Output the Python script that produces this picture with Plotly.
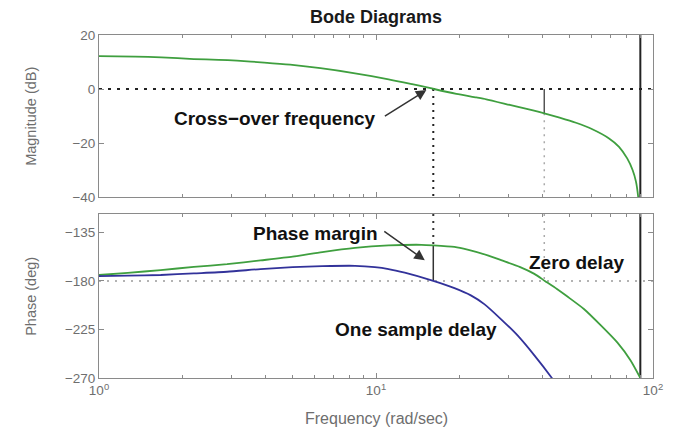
import numpy as np
import plotly.graph_objects as go
from plotly.subplots import make_subplots

# Open-loop magnitude (same for both loops)
freq_mag = [1.0, 1.35, 1.68, 2.2, 2.7, 3.15, 3.95, 4.9, 6.3, 8.4, 11.1, 13.5, 15.3,
            16.2, 19.5, 23.0, 25.0, 30.4, 35.0, 40.5, 46.0, 52.7, 60.4, 69.4, 75.4,
            80.7, 84.4, 86.8, 88.4, 89.3]
mag_db = [12.2, 12.0, 11.7, 11.1, 10.8, 10.5, 9.8, 9.0, 7.7, 5.8, 3.6, 1.8, 0.6,
          0.0, -1.8, -3.1, -3.8, -5.9, -7.4, -9.0, -10.6, -12.5, -14.9, -18.3, -21.4,
          -25.7, -30.0, -34.3, -39.9, -46.0]

# Phase, zero delay
freq_ph_zero = [1.0, 1.27, 1.67, 2.2, 2.9, 3.83, 5.0, 6.4, 8.4, 11.1, 14.6, 16.1,
                19.2, 21.4, 25.3, 28.3, 33.0, 37.3, 40.7, 45.0, 49.1, 56.3, 64.7, 74.3,
                82.9, 90.0]
phase_zero = [-174.5, -172.5, -170.0, -167.0, -164.5, -161.0, -157.5, -153.2, -149.3,
              -147.1, -146.5, -147.0, -148.5, -151.0, -156.3, -160.8, -167.0, -173.5,
              -180.0, -187.5, -194.5, -206.0, -221.0, -237.0, -253.5, -270.0]

# Phase, one sample delay
freq_ph_delay = [1.0, 1.27, 1.67, 2.2, 2.9, 3.83, 5.0, 6.4, 8.4, 9.9, 11.1, 12.7,
                 16.1, 19.2, 22.0, 24.6, 28.3, 32.5, 37.3, 42.8, 44.5]
phase_delay = [-175.5, -175.1, -174.5, -173.0, -171.5, -169.0, -167.2, -166.3, -166.0,
               -167.2, -169.0, -172.4, -180.0, -186.7, -193.4, -201.5, -215.6, -230.8,
               -249.0, -268.8, -275.0]

# Margin markers
crossover_freq = 16.1
phase_crossover_freq = 40.5
nyquist_freq = 90.0
mag_at_phase_crossover = -9.0
phase_at_crossover = -147.3

freq_range = [1, 100]
mag_range = [-40, 20]
phase_range = [-270, -118]
mag_ticks = [20, 0, -20, -40]
phase_ticks = [-135, -180, -225, -270]
decade_ticks = [1, 10, 100]
decade_labels = ["10<sup>0</sup>", "10<sup>1</sup>", "10<sup>2</sup>"]
minor_ticks = [m * d for d in (1, 10) for m in range(2, 10)]

GREEN = "#3f9f3f"
BLUE = "#32329a"
AXIS = "#8a8a8a"
TICKTXT = "#6e6e6e"
FONT = "Liberation Sans, Arial, Helvetica, sans-serif"

fig = make_subplots(rows=2, cols=1, shared_xaxes=False, vertical_spacing=0.0)


def ref_line(x, y, row, color, width, dash):
    fig.add_trace(go.Scatter(x=x, y=y, mode="lines", hoverinfo="skip", showlegend=False,
                             line=dict(color=color, width=width, dash=dash)),
                  row=row, col=1)


# Magnitude panel reference lines
ref_line(freq_range, [0, 0], 1, "#222222", 2, "3px,6px")
ref_line([crossover_freq] * 2, [0, mag_range[0]], 1, "#222222", 2, "2px,5px")
ref_line([phase_crossover_freq] * 2, [0, mag_at_phase_crossover], 1, "#555555", 1.5, "solid")
ref_line([phase_crossover_freq] * 2, [mag_at_phase_crossover, mag_range[0]], 1, "#aaaaaa", 1.5, "2px,5px")
ref_line([nyquist_freq] * 2, mag_range, 1, "#222222", 2, "solid")

# Phase panel reference lines
ref_line(freq_range, [-180, -180], 2, "#9a9a9a", 1.5, "2px,6px")
ref_line([crossover_freq] * 2, [phase_range[1], phase_at_crossover], 2, "#333333", 2, "2px,5px")
ref_line([crossover_freq] * 2, [phase_at_crossover, -180], 2, "#333333", 1.5, "solid")
ref_line([phase_crossover_freq] * 2, [phase_range[1], -180], 2, "#aaaaaa", 1.5, "2px,5px")
ref_line([nyquist_freq] * 2, phase_range, 2, "#222222", 2, "solid")

# Curves
fig.add_trace(go.Scatter(x=freq_mag, y=mag_db, mode="lines", showlegend=False,
                         line=dict(color=GREEN, width=1.8, shape="spline", smoothing=0.6)),
              row=1, col=1)
fig.add_trace(go.Scatter(x=freq_ph_zero, y=phase_zero, mode="lines", showlegend=False,
                         line=dict(color=GREEN, width=1.8, shape="spline", smoothing=0.6)),
              row=2, col=1)
fig.add_trace(go.Scatter(x=freq_ph_delay, y=phase_delay, mode="lines", showlegend=False,
                         line=dict(color=BLUE, width=1.8, shape="spline", smoothing=0.6)),
              row=2, col=1)

xcommon = dict(type="log", range=[np.log10(freq_range[0]), np.log10(freq_range[1])],
               tickmode="array", tickvals=decade_ticks, ticktext=decade_labels,
               ticks="inside", ticklen=5, tickwidth=1, tickcolor=AXIS,
               showline=True, linecolor=AXIS, linewidth=1, mirror="ticks",
               showgrid=False, zeroline=False,
               minor=dict(tickmode="array", tickvals=minor_ticks, ticks="inside",
                          ticklen=3, tickcolor=AXIS, showgrid=False),
               tickfont=dict(family=FONT, size=13.5, color=TICKTXT))
ycommon = dict(tickmode="array", ticks="inside", ticklen=5, tickwidth=1, tickcolor=AXIS,
               showline=True, linecolor=AXIS, linewidth=1, mirror="ticks",
               showgrid=False, zeroline=False,
               tickfont=dict(family=FONT, size=13.5, color=TICKTXT))

fig.update_xaxes(**xcommon, showticklabels=False, row=1, col=1)
fig.update_xaxes(**xcommon, showticklabels=True, row=2, col=1)
fig.update_yaxes(**ycommon, range=mag_range, tickvals=mag_ticks, row=1, col=1)
fig.update_yaxes(**ycommon, range=phase_range, tickvals=phase_ticks, row=2, col=1)

fig.update_layout(
    width=675, height=435,
    margin=dict(l=99, r=19, t=35, b=57),
    paper_bgcolor="white", plot_bgcolor="white",
    xaxis=dict(domain=[0, 1]), xaxis2=dict(domain=[0, 1]),
    yaxis=dict(domain=[0.5277, 1.0]), yaxis2=dict(domain=[0.0, 0.478]),
    title=dict(text="Bode Diagrams", x=0.5, xref="paper", xanchor="center",
               y=1 - 17 / 435, yanchor="middle",
               font=dict(family=FONT, size=18, color="#1a1a1a", weight="bold")),
    font=dict(family=FONT),
)

bold = dict(family=FONT, size=19, color="#111111", weight="bold")
axtitle = dict(family=FONT, size=14.5, color=TICKTXT)

annotations = [
    # axis titles
    dict(text="Magnitude (dB)", xref="paper", yref="paper", x=-0.123, y=(378 - 116) / 343,
         textangle=-90, showarrow=False, font=axtitle, xanchor="center", yanchor="middle"),
    dict(text="Phase (deg)", xref="paper", yref="paper", x=-0.123, y=(378 - 296) / 343,
         textangle=-90, showarrow=False, font=axtitle, xanchor="center", yanchor="middle"),
    dict(text="Frequency (rad/sec)", xref="paper", yref="paper", x=0.5, y=(378 - 418) / 343,
         showarrow=False, font=dict(family=FONT, size=16, color=TICKTXT),
         xanchor="center", yanchor="middle"),
    # callouts
    dict(text="Cross\u2212over frequency", xref="x", yref="y", x=0.636, y=-11.1,
         showarrow=False, font=bold, xanchor="center", yanchor="middle"),
    dict(text="", xref="x", yref="y", x=np.log10(15.2), y=-0.4, ax=-43, ay=27,
         showarrow=True, arrowhead=2, arrowsize=1.4, arrowwidth=1.5, arrowcolor="#333333"),
    dict(text="Phase margin", xref="x2", yref="y2", x=0.780, y=-136.2,
         showarrow=False, font=bold, xanchor="center", yanchor="middle"),
    dict(text="", xref="x2", yref="y2", x=np.log10(15.0), y=-160.8, ax=-42, ay=-30,
         showarrow=True, arrowhead=2, arrowsize=1.4, arrowwidth=1.5, arrowcolor="#333333"),
    dict(text="Zero delay", xref="x2", yref="y2", x=1.723, y=-162.6,
         showarrow=False, font=bold, xanchor="center", yanchor="middle"),
    dict(text="One sample delay", xref="x2", yref="y2", x=1.1446, y=-224.7,
         showarrow=False, font=bold, xanchor="center", yanchor="middle"),
]
fig.update_layout(annotations=annotations)

fig.write_html("out.html")
